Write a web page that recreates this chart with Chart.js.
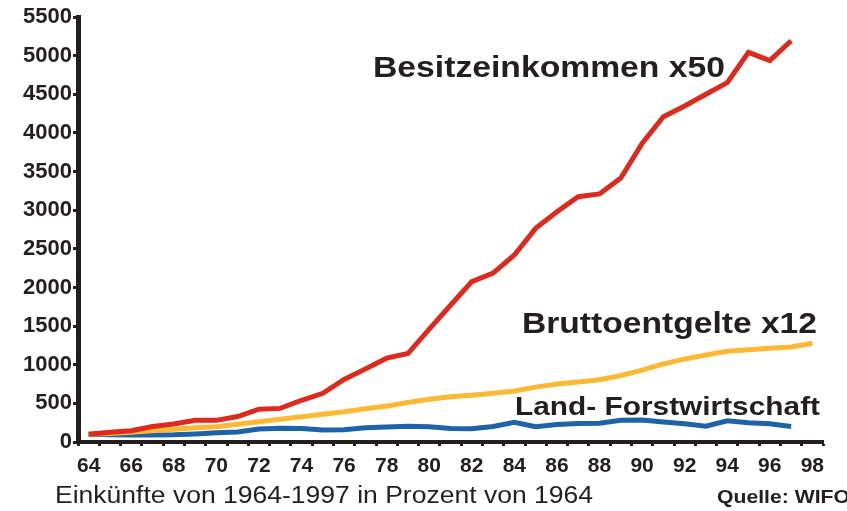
<!DOCTYPE html>
<html lang="de">
<head>
    <meta charset="UTF-8">
    <title>Einkünfte 1964-1997</title>
    <script src="https://cdn.jsdelivr.net/npm/chart.js"></script>
    <style>
        html, body { margin: 0; padding: 0; background: #fff; }
        #wrap { width: 847px; height: 511px; position: relative; }
    </style>
</head>
<body>
<div id="wrap"><canvas id="myChart"></canvas></div>
<script>
    // Jahre 1964-1998 (Kategorien der x-Achse)
    const years = ['64','65','66','67','68','69','70','71','72','73','74','75','76','77','78','79','80',
                   '81','82','83','84','85','86','87','88','89','90','91','92','93','94','95','96','97','98'];

    // Besitzeinkommen x50
    const besitz = [100,125,145,200,233,280,280,330,425,435,540,630,810,945,1085,1145,1460,
                    1770,2075,2185,2420,2765,2980,3175,3210,3415,3865,4210,4348,4500,4650,5042,4935,5193];

    // Bruttoentgelte x12
    const brutto = [100,110,125,145,165,185,198,230,263,295,327,360,392,430,466,510,552,
                    586,605,630,660,710,750,775,805,860,930,1010,1075,1125,1175,1195,1212,1230,1277];

    // Land- Forstwirtschaft
    const landForst = [100,95,90,92,95,105,120,130,168,177,175,155,160,185,195,205,198,
                       175,172,200,255,198,225,238,242,280,285,260,235,205,275,250,235,200];

    const yTicks = [0,500,1000,1500,2000,2500,3000,3500,4000,4500,5000,5500];

    const ink = '#231f20';

    // Texte im Diagramm, auf eine bestimmte Breite gestreckt
    function fitText(ctx, text, font, left, right, baseline) {
        ctx.save();
        ctx.font = font;
        ctx.fillStyle = ink;
        ctx.textAlign = 'left';
        ctx.textBaseline = 'alphabetic';
        const w = ctx.measureText(text).width;
        ctx.translate(left, baseline);
        ctx.scale((right - left) / w, 1);
        ctx.fillText(text, 0, 0);
        ctx.restore();
    }

    const labelsPlugin = {
        id: 'labels',
        afterDraw(chart) {
            const ctx = chart.ctx;
            fitText(ctx, 'Besitzeinkommen x50', 'bold 30px "Liberation Sans", Arial, sans-serif', 373, 725, 77);
            fitText(ctx, 'Bruttoentgelte x12', 'bold 30px "Liberation Sans", Arial, sans-serif', 522, 817, 333);
            fitText(ctx, 'Land- Forstwirtschaft', 'bold 26px "Liberation Sans", Arial, sans-serif', 515, 820, 415);
            fitText(ctx, 'Einkünfte von 1964-1997 in Prozent von 1964', '23px "Liberation Sans", Arial, sans-serif', 55, 593, 503);
            fitText(ctx, 'Quelle: WIFO', 'bold 18px "Liberation Sans", Arial, sans-serif', 717, 850, 503);
        }
    };

    const ctx = document.getElementById('myChart').getContext('2d');
    new Chart(ctx, {
        type: 'line',
        data: {
            labels: years,
            datasets: [
                { label: 'Besitzeinkommen x50', data: besitz, borderColor: '#dc2a1f' },
                { label: 'Bruttoentgelte x12', data: brutto, borderColor: '#fbb935' },
                { label: 'Land- Forstwirtschaft', data: landForst, borderColor: '#1e63a8' }
            ]
        },
        options: {
            responsive: true,
            maintainAspectRatio: false,
            animation: false,
            devicePixelRatio: 1,
            layout: { padding: { top: 17, right: 24, left: 0, bottom: 0 } },
            elements: {
                line: { borderWidth: 5, tension: 0, borderJoinStyle: 'miter', borderCapStyle: 'butt', fill: false },
                point: { radius: 0, hoverRadius: 0 }
            },
            plugins: {
                legend: { display: false },
                tooltip: { enabled: false }
            },
            scales: {
                x: {
                    type: 'category',
                    offset: true,
                    afterFit(scale) { scale.height = 69; },
                    grid: {
                        offset: true,
                        drawOnChartArea: false,
                        drawTicks: true,
                        tickLength: 4,
                        tickWidth: 3,
                        tickColor: ink
                    },
                    border: { display: true, width: 4, color: ink },
                    ticks: {
                        autoSkip: false,
                        maxRotation: 0,
                        padding: 8,
                        color: ink,
                        font: { family: '"Liberation Sans", Arial, sans-serif', size: 21, weight: 'bold' },
                        callback: (val, idx) => idx % 2 === 0 ? years[idx] : ''
                    }
                },
                y: {
                    min: 0,
                    max: 5500,
                    afterFit(scale) { scale.width = 78; },
                    afterBuildTicks(scale) { scale.ticks = yTicks.map(v => ({ value: v })); },
                    grid: {
                        drawOnChartArea: false,
                        drawTicks: true,
                        tickLength: 5,
                        tickWidth: 3,
                        tickColor: ink
                    },
                    border: { display: true, width: 5, color: ink },
                    ticks: {
                        padding: 1,
                        color: ink,
                        font: { family: '"Liberation Sans", Arial, sans-serif', size: 22, weight: 'bold' },
                        callback: (v) => String(v)
                    }
                }
            }
        },
        plugins: [labelsPlugin]
    });
</script>
</body>
</html>
